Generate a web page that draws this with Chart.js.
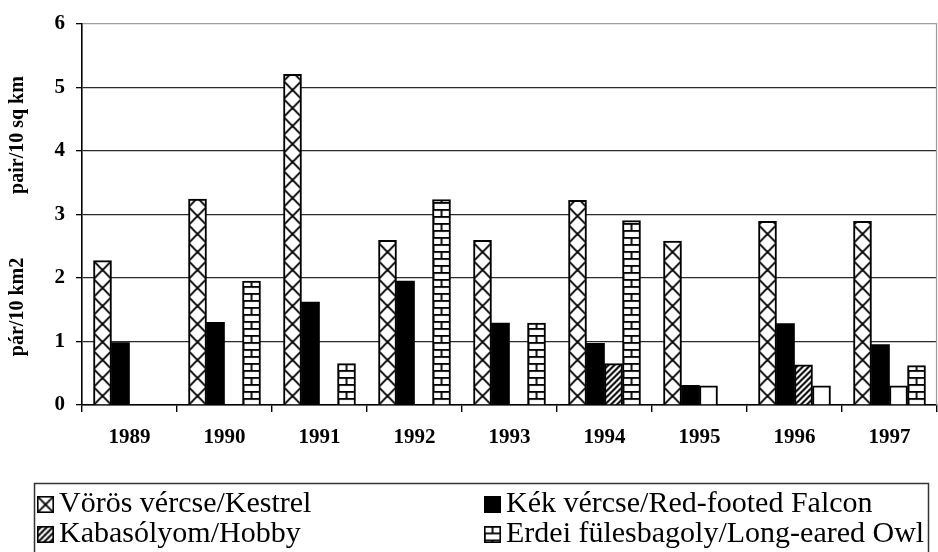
<!DOCTYPE html>
<html>
<head>
<meta charset="utf-8">
<script src="https://cdn.jsdelivr.net/npm/chart.js@4/dist/chart.umd.min.js"></script>
<style>
  html, body { margin: 0; padding: 0; background: #fff; }
  #wrap { width: 938px; height: 552px; position: relative; }
</style>
</head>
<body>
<div id="wrap"><canvas id="c" width="938" height="552"></canvas></div>
<script>
// Breeding density of raptors and owls, pairs per 10 km2
const years = ['1989', '1990', '1991', '1992', '1993', '1994', '1995', '1996', '1997'];
const kestrel = [2.27, 3.24, 5.2, 2.59, 2.59, 3.22, 2.58, 2.89, 2.89];
const redFootedFalcon = [0.98, 1.3, 1.62, 1.95, 1.29, 0.97, 0.31, 1.28, 0.95];
const hobby = [null, null, null, null, null, 0.65, 0.3, 0.63, 0.3];
const longEaredOwl = [null, 1.95, 0.65, 3.23, 1.29, 2.9, null, 0.3, 0.62];
const yTicks = [0, 1, 2, 3, 4, 5, 6];
const seriesNames = [
  'Vörös vércse/Kestrel',
  'Kék vércse/Red-footed Falcon',
  'Kabasólyom/Hobby',
  'Erdei fülesbagoly/Long-eared Owl'
];
const axisTitleEn = 'pair/10 sq km';
const axisTitleHu = 'pár/10 km2';

const BAR = 18;
const SERIF = '"Liberation Serif", "Times New Roman", serif';

// ---- fill tiles ----
function makeTile(w, h, draw) {
  const c = document.createElement('canvas');
  c.width = w; c.height = h;
  const g = c.getContext('2d');
  g.fillStyle = '#fff';
  g.fillRect(0, 0, w, h);
  g.strokeStyle = '#000';
  g.fillStyle = '#000';
  draw(g, w, h);
  return c;
}
// diagonal lattice (crossed X)
const crossTile = makeTile(18, 18, (g, w, h) => {
  g.lineWidth = 1.9;
  g.beginPath();
  g.moveTo(0, 0); g.lineTo(w, h);
  g.moveTo(w, 0); g.lineTo(0, h);
  g.stroke();
});
// forward diagonal stripes
const stripeTile = makeTile(6, 6, (g, w, h) => {
  g.lineWidth = 2;
  g.beginPath();
  g.moveTo(-1, h + 1); g.lineTo(w + 1, -1);
  g.moveTo(-2, 2); g.lineTo(2, -2);
  g.moveTo(w - 2, h + 2); g.lineTo(w + 2, h - 2);
  g.stroke();
});
// brick rows
const brickTile = makeTile(18, 14, (g, w, h) => {
  g.fillRect(0, 0, w, 1.8);
  g.fillRect(0, 7, w, 1.8);
  g.fillRect(8.1, 0, 1.8, 7);
  g.fillRect(0, 7, 1.8, 7);
});

function barLeft(ctx) {
  const center = ctx.chart.scales.x.getPixelForValue(ctx.dataIndex);
  return center - BAR * 2 + BAR * ctx.datasetIndex;
}
// patterned fill anchored to each bar; very short bars stay plain white
function patternFill(tile) {
  return (ctx) => {
    if (ctx.type !== 'data') return '#fff';
    const v = ctx.raw;
    if (v != null && v < 0.4) return '#fff';
    const p = ctx.chart.ctx.createPattern(tile, 'repeat');
    p.setTransform(new DOMMatrix().translate(barLeft(ctx), ctx.chart.scales.y.getPixelForValue(0)));
    return p;
  };
}

const legendFills = [crossTile, null, stripeTile, brickTile];

// ---- extra drawing: axis titles, frame edge, legend box ----
const decorations = {
  id: 'decorations',
  afterDraw(chart) {
    const g = chart.ctx;
    const a = chart.chartArea;
    g.save();

    // right edge of plot frame
    g.strokeStyle = '#9a9a9a';
    g.lineWidth = 1.2;
    g.beginPath();
    g.moveTo(a.right - 0.5, a.top);
    g.lineTo(a.right - 0.5, a.bottom);
    g.stroke();

    // two-language y axis titles
    g.fillStyle = '#000';
    g.font = 'bold 20px ' + SERIF;
    g.textAlign = 'center';
    g.textBaseline = 'middle';
    [[axisTitleEn, 135], [axisTitleHu, 307]].forEach(([t, cy]) => {
      g.save();
      g.translate(18, cy);
      g.rotate(-Math.PI / 2);
      g.fillText(t, 0, 0);
      g.restore();
    });

    // legend box
    g.strokeStyle = '#333';
    g.lineWidth = 1.5;
    g.strokeRect(34.5, 483.5, 894, 90);

    const cols = [37, 484];
    const rows = [496, 526];
    const order = [[0, 0, 0], [1, 1, 0], [2, 0, 1], [3, 1, 1]];
    g.font = '30px ' + SERIF;
    g.textAlign = 'left';
    g.textBaseline = 'alphabetic';
    order.forEach(([di, c, r]) => {
      const ds = chart.data.datasets[di];
      const x = cols[c], y = rows[r], s = 17;
      const tile = legendFills[di];
      if (tile) {
        const p = g.createPattern(tile, 'repeat');
        p.setTransform(new DOMMatrix().translate(x - 0.5, y - 0.5));
        g.fillStyle = p;
      } else {
        g.fillStyle = '#000';
      }
      g.fillRect(x, y, s, s);
      g.strokeStyle = '#000';
      g.lineWidth = 1.6;
      g.strokeRect(x + 0.8, y + 0.8, s - 1.6, s - 1.6);
      g.fillStyle = '#000';
      g.fillText(ds.label, x + 22, y + 16);
    });
    g.restore();
  }
};

new Chart(document.getElementById('c'), {
  type: 'bar',
  data: {
    labels: years,
    datasets: [
      { label: seriesNames[0], data: kestrel, backgroundColor: patternFill(crossTile), borderColor: '#000', borderWidth: 2 },
      { label: seriesNames[1], data: redFootedFalcon, backgroundColor: '#000', borderColor: '#000', borderWidth: 0 },
      { label: seriesNames[2], data: hobby, backgroundColor: patternFill(stripeTile), borderColor: '#000', borderWidth: 2 },
      { label: seriesNames[3], data: longEaredOwl, backgroundColor: patternFill(brickTile), borderColor: '#000', borderWidth: 2 }
    ]
  },
  options: {
    responsive: false,
    animation: false,
    devicePixelRatio: 1,
    layout: { padding: { top: 19, right: 1, left: 0, bottom: 0 } },
    datasets: { bar: { barThickness: BAR, borderSkipped: 'start' } },
    plugins: { legend: { display: false }, tooltip: { enabled: false }, title: { display: false } },
    scales: {
      x: {
        offset: true,
        grid: { display: true, offset: true, drawOnChartArea: false, drawTicks: true, tickLength: 7, color: '#000', lineWidth: 1.4 },
        border: { display: true, color: '#000', width: 1.6 },
        ticks: { color: '#000', padding: 13, maxRotation: 0, font: { family: SERIF, size: 21, weight: 'bold' } },
        afterFit(s) { s.height = 147; }
      },
      y: {
        min: 0,
        max: 6,
        afterBuildTicks(s) { s.ticks = yTicks.map(v => ({ value: v })); },
        grid: {
          color: (c) => (c.tick && c.tick.value === 6 ? '#a0a0a0' : '#2a2a2a'),
          lineWidth: 1.3,
          drawTicks: true,
          tickLength: 6,
          tickColor: '#000'
        },
        border: { display: true, color: '#000', width: 1.6 },
        ticks: { color: '#000', padding: 11, font: { family: SERIF, size: 21, weight: 'bold' } },
        afterFit(s) { s.width = 82; }
      }
    }
  },
  plugins: [decorations]
});
</script>
</body>
</html>
